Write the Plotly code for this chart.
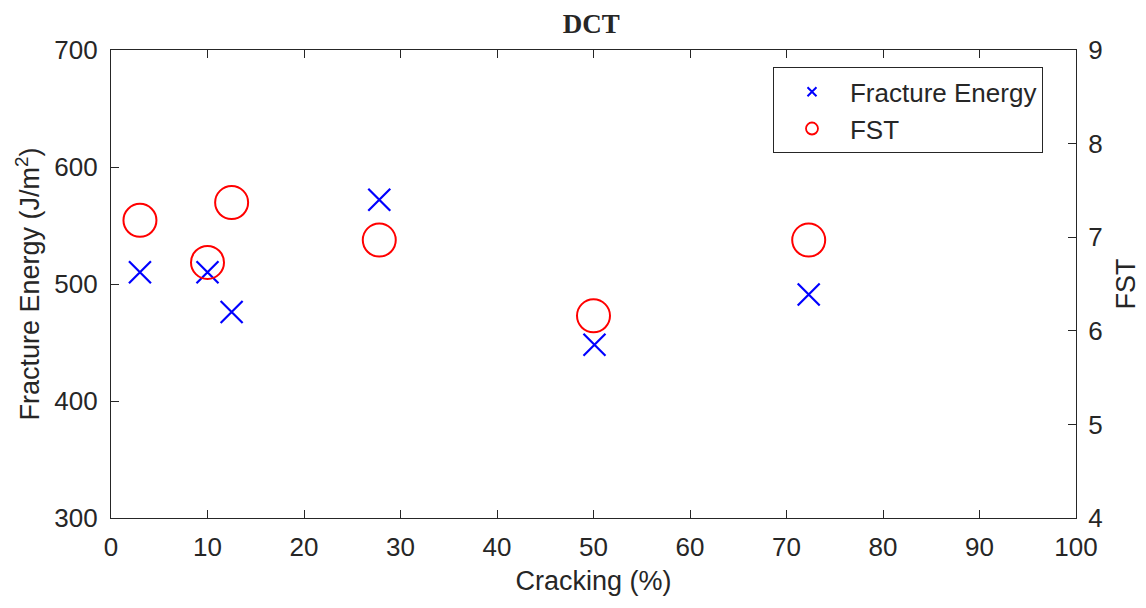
import plotly.graph_objects as go

cracking_fe = [3, 10, 12.5, 27.8, 50.1, 72.3]
fracture_energy = [510, 510, 476, 572, 448, 491]
cracking_fst = [3, 10, 12.5, 27.8, 50.0, 72.3]
fst = [7.18, 6.73, 7.37, 6.97, 6.16, 6.97]

fig = go.Figure()
fig.add_trace(go.Scatter(x=cracking_fe, y=fracture_energy, mode="markers", name="Fracture Energy",
                         marker=dict(symbol="x-thin-open", size=22, color="blue",
                                     line=dict(color="blue", width=2.2)),
                         showlegend=False))
fig.add_trace(go.Scatter(x=cracking_fst, y=fst, mode="markers", name="FST", yaxis="y2",
                         marker=dict(symbol="circle-open", size=33, color="red",
                                     line=dict(color="red", width=2)),
                         showlegend=False))
# legend entries
fig.add_trace(go.Scatter(x=[None], y=[None], mode="markers", name="Fracture Energy",
                         marker=dict(symbol="x-thin-open", size=9, color="blue",
                                     line=dict(color="blue", width=2))))
fig.add_trace(go.Scatter(x=[None], y=[None], mode="markers", name="FST", yaxis="y2",
                         marker=dict(symbol="circle-open", size=12, color="red",
                                     line=dict(color="red", width=1.8))))

tick_font = dict(family="Liberation Sans, Arial", size=26, color="#262626")
label_font = dict(family="Liberation Sans, Arial", size=27, color="#262626")
fig.update_layout(
    width=1146, height=608,
    margin=dict(l=111, r=70, t=50, b=90),
    paper_bgcolor="white", plot_bgcolor="white",
    title=dict(text="<b>DCT</b>", x=0.516, xanchor="center", y=0.962, yanchor="middle",
               font=dict(family="Liberation Serif, Times New Roman", size=27, color="#262626")),
    xaxis=dict(range=[0, 100], tickvals=list(range(0, 101, 10)), ticks="inside", ticklen=8,
               tickcolor="#262626", showline=True, linecolor="#262626", linewidth=1.3,
               mirror="ticks", showgrid=False, zeroline=False, tickfont=tick_font,
               ticklabelstandoff=6, automargin=False,
               title=dict(text="Cracking (%)", font=label_font, standoff=9)),
    yaxis=dict(range=[300, 700], tickvals=[300, 400, 500, 600, 700], ticks="inside", ticklen=8,
               tickcolor="#262626", showline=True, linecolor="#262626", linewidth=1.3,
               showgrid=False, zeroline=False, tickfont=tick_font, ticklabelstandoff=7,
               automargin=False,
               title=dict(text="Fracture Energy (J/m<sup>2</sup>)", font=label_font, standoff=6)),
    yaxis2=dict(range=[4, 9], tickvals=[4, 5, 6, 7, 8, 9], ticks="inside", ticklen=8,
                tickcolor="#262626", showline=True, linecolor="#262626", linewidth=1.3,
                overlaying="y", side="right", showgrid=False, zeroline=False, tickfont=tick_font,
                ticklabelstandoff=6, automargin=False,
                title=dict(text="FST", font=label_font, standoff=14)),
    legend=dict(x=0.686, y=0.963, xanchor="left", yanchor="top", bordercolor="#262626",
                borderwidth=1, bgcolor="white", font=dict(family="Liberation Sans, Arial", size=26,
                color="#262626"), itemwidth=66, tracegroupgap=0),
    showlegend=True,
)
fig.write_html("out.html")
